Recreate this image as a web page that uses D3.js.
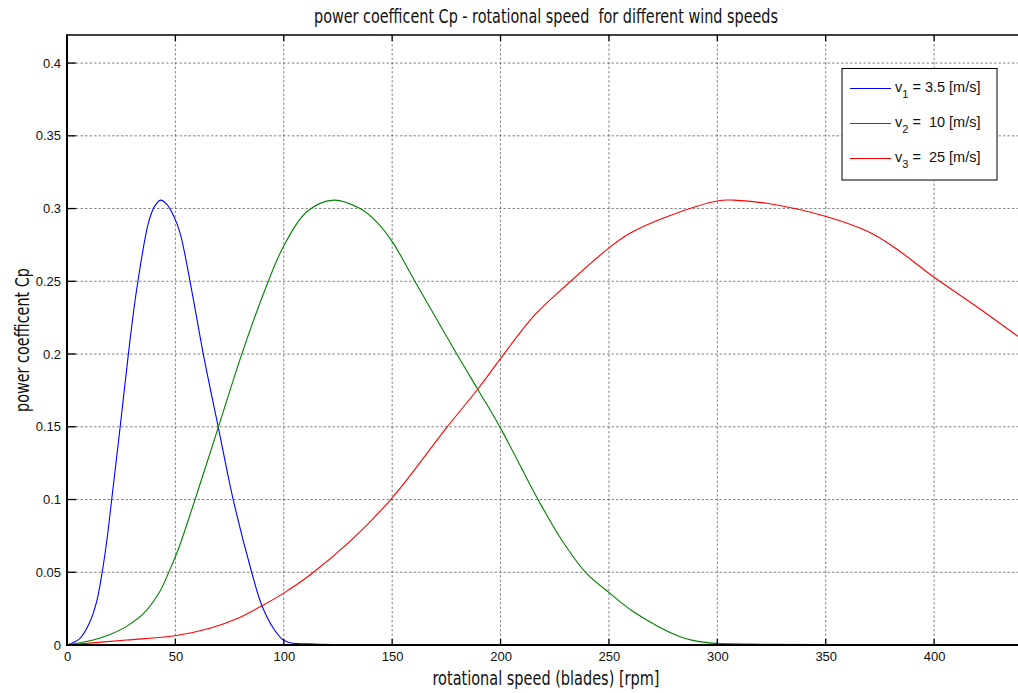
<!DOCTYPE html>
<html><head><meta charset="utf-8">
<script src="https://cdn.jsdelivr.net/npm/d3@7"></script>
<style>body{margin:0;background:#fff}svg{display:block}</style>
</head><body>
<svg id="c" width="1018" height="693"></svg>
<script>
// ---- data ----
const xTicks = [0, 50, 100, 150, 200, 250, 300, 350, 400];
const yTicks = [0, 0.05, 0.1, 0.15, 0.2, 0.25, 0.3, 0.35, 0.4];
const yTickLabels = ["0", "0.05", "0.1", "0.15", "0.2", "0.25", "0.3", "0.35", "0.4"];
const seriesNames = ["3.5", "10", "25"];
const seriesColors = ["#0000ff", "#008000", "#ff0000"];

const v1x = [0, 6, 10.6, 13.7, 16, 18.3, 20.6, 24.5, 28.3, 32.1, 37.5, 40.2, 43.2, 46, 49, 52.1, 57.5, 62.9, 69.8, 76.7, 85.2, 89.8, 95.2, 99.8, 102.9, 114, 128, 140, 440];
const v1y = [0, 0.0046, 0.016, 0.03, 0.048, 0.071, 0.0997, 0.1496, 0.1998, 0.244, 0.2898, 0.301, 0.3058, 0.303, 0.2955, 0.2835, 0.244, 0.1998, 0.1496, 0.0997, 0.05, 0.0275, 0.0115, 0.0034, 0.0016, 0.0007, 0.0002, 0, 0];

const v2x = [0, 12.1, 19.8, 27.5, 35.2, 42.9, 47.5, 51.4, 59, 69.8, 80.6, 91.3, 99.8, 110.6, 122.9, 135.2, 142, 149.8, 160.6, 179.8, 189.8, 199.8, 217.4, 228.2, 239.8, 250.5, 261.3, 282.8, 292, 299.7, 322, 370, 440];
const v2y = [0, 0.0034, 0.0072, 0.0128, 0.0215, 0.037, 0.052, 0.066, 0.0997, 0.1496, 0.1998, 0.244, 0.2738, 0.2978, 0.3058, 0.300, 0.292, 0.2778, 0.2497, 0.2, 0.175, 0.1496, 0.0997, 0.0722, 0.049, 0.0355, 0.0229, 0.0057, 0.0023, 0.0011, 0.0005, 0.0001, 0];

const v3x = [0, 27.5, 49.8, 66, 78.3, 90.6, 99.8, 112.1, 131.3, 149.8, 175.2, 189.8, 199.8, 215.1, 232.1, 249.7, 259.7, 276.7, 300.5, 307.4, 322.8, 350.5, 369, 381.2, 399.7, 419.7, 438.8];
const v3y = [0, 0.0034, 0.0064, 0.0115, 0.018, 0.0275, 0.0355, 0.0481, 0.0722, 0.1008, 0.1496, 0.1765, 0.1965, 0.2257, 0.2497, 0.2726, 0.283, 0.2944, 0.3054, 0.3058, 0.3036, 0.2944, 0.2845, 0.2738, 0.2531, 0.2325, 0.212];

const series = [
  {name: seriesNames[0], color: seriesColors[0], xs: v1x, ys: v1y},
  {name: seriesNames[1], color: seriesColors[1], xs: v2x, ys: v2y},
  {name: seriesNames[2], color: seriesColors[2], xs: v3x, ys: v3y}
];

// ---- layout ----
const svg = d3.select("#c");
const L = 67, R = 1018, T = 35, B = 645;
const x = d3.scaleLinear().domain([0, 438.7]).range([L, R]);
const y = d3.scaleLinear().domain([0, 0.4193]).range([B, T]);

const tickFont = "'Liberation Sans', Arial, Helvetica, sans-serif";
const labFont = "'Liberation Sans Narrow', 'DejaVu Sans Condensed', 'Liberation Sans', sans-serif";

// grid
const grid = svg.append("g");
grid.selectAll("line.gx").data(xTicks.filter(d => d > 0)).enter().append("line")
  .attr("x1", d => x(d)).attr("x2", d => x(d)).attr("y1", T).attr("y2", B)
  .attr("stroke", "#333").attr("stroke-width", 0.8).attr("stroke-dasharray", "2.5,2").attr("opacity", 0.75);
grid.selectAll("line.gy").data(yTicks.filter(d => d > 0)).enter().append("line")
  .attr("x1", L).attr("x2", R).attr("y1", d => y(d)).attr("y2", d => y(d))
  .attr("stroke", "#333").attr("stroke-width", 0.8).attr("stroke-dasharray", "2.5,2").attr("opacity", 0.75);

// curves
const line = d3.line().curve(d3.curveCatmullRom.alpha(0.5));
svg.append("clipPath").attr("id", "pc").append("rect")
  .attr("x", L).attr("y", T).attr("width", R - L).attr("height", B - T);
svg.append("g").attr("clip-path", "url(#pc)").selectAll("path").data(series).enter().append("path")
  .attr("d", s => line(s.xs.map((v, i) => [x(v), y(s.ys[i])])))
  .attr("fill", "none").attr("stroke", s => s.color).attr("stroke-width", 1.1);

// axes
const xAxis = d3.axisBottom(x).tickValues(xTicks).tickSize(0).tickPadding(7).tickFormat(d3.format("d"));
const gx = svg.append("g").attr("transform", `translate(0,${B})`).call(xAxis);
gx.select(".domain").remove();
gx.selectAll("text").attr("font-family", tickFont).attr("font-size", 13).attr("fill", "#111");

const yAxis = d3.axisLeft(y).tickValues(yTicks).tickSize(0).tickPadding(6).tickFormat((d, i) => yTickLabels[i]);
const gy = svg.append("g").attr("transform", `translate(${L},0)`).call(yAxis);
gy.select(".domain").remove();
gy.selectAll("text").attr("font-family", tickFont).attr("font-size", 13).attr("fill", "#111");

// tick marks inside
const tk = svg.append("g").attr("stroke", "#000").attr("stroke-width", 1.3);
xTicks.forEach(d => {
  tk.append("line").attr("x1", x(d)).attr("x2", x(d)).attr("y1", B).attr("y2", B - 6);
  tk.append("line").attr("x1", x(d)).attr("x2", x(d)).attr("y1", T).attr("y2", T + 6);
});
yTicks.forEach(d => {
  tk.append("line").attr("x1", L).attr("x2", L + 9).attr("y1", y(d)).attr("y2", y(d));
});

// frame
svg.append("line").attr("x1", L).attr("x2", R).attr("y1", B).attr("y2", B).attr("stroke", "#000").attr("stroke-width", 2);
svg.append("line").attr("x1", L).attr("x2", R).attr("y1", T).attr("y2", T).attr("stroke", "#000").attr("stroke-width", 1.5);
svg.append("line").attr("x1", L).attr("x2", L).attr("y1", T - 0.75).attr("y2", B + 1).attr("stroke", "#000").attr("stroke-width", 2);

// titles
svg.append("text").attr("x", 546).attr("y", 23).attr("text-anchor", "middle")
  .attr("font-family", labFont).attr("font-size", 20).attr("fill", "#111")
  .attr("textLength", 464).attr("lengthAdjust", "spacingAndGlyphs")
  .attr("xml:space", "preserve")
  .text("power coefficent Cp - rotational speed  for different wind speeds");
svg.append("text").attr("x", 546).attr("y", 685).attr("text-anchor", "middle")
  .attr("font-family", labFont).attr("font-size", 20).attr("fill", "#111")
  .attr("textLength", 227).attr("lengthAdjust", "spacingAndGlyphs")
  .text("rotational speed (blades) [rpm]");
svg.append("text").attr("transform", "translate(29,340) rotate(-90)").attr("text-anchor", "middle")
  .attr("font-family", labFont).attr("font-size", 20).attr("fill", "#111")
  .attr("textLength", 144).attr("lengthAdjust", "spacingAndGlyphs")
  .text("power coefficent Cp");

// legend
const lg = svg.append("g");
lg.append("rect").attr("x", 842).attr("y", 68.5).attr("width", 155).attr("height", 111.5)
  .attr("fill", "#fff").attr("stroke", "#000").attr("stroke-width", 1);
const legY = [88.5, 123.5, 158.5];
const legLabels = [" = 3.5 [m/s]", " =  10 [m/s]", " =  25 [m/s]"];
series.forEach((s, i) => {
  lg.append("line").attr("x1", 850).attr("x2", 891).attr("y1", legY[i]).attr("y2", legY[i])
    .attr("stroke", s.color).attr("stroke-width", 1.1);
  const t = lg.append("text").attr("x", 895).attr("y", legY[i] + 3)
    .attr("font-family", tickFont).attr("font-size", 14.5).attr("fill", "#111").attr("xml:space", "preserve");
  t.append("tspan").text("v");
  t.append("tspan").attr("dy", 6).attr("font-size", 11).text(String(i + 1));
  t.append("tspan").attr("dy", -6).text(legLabels[i]);
});
</script>
</body></html>
